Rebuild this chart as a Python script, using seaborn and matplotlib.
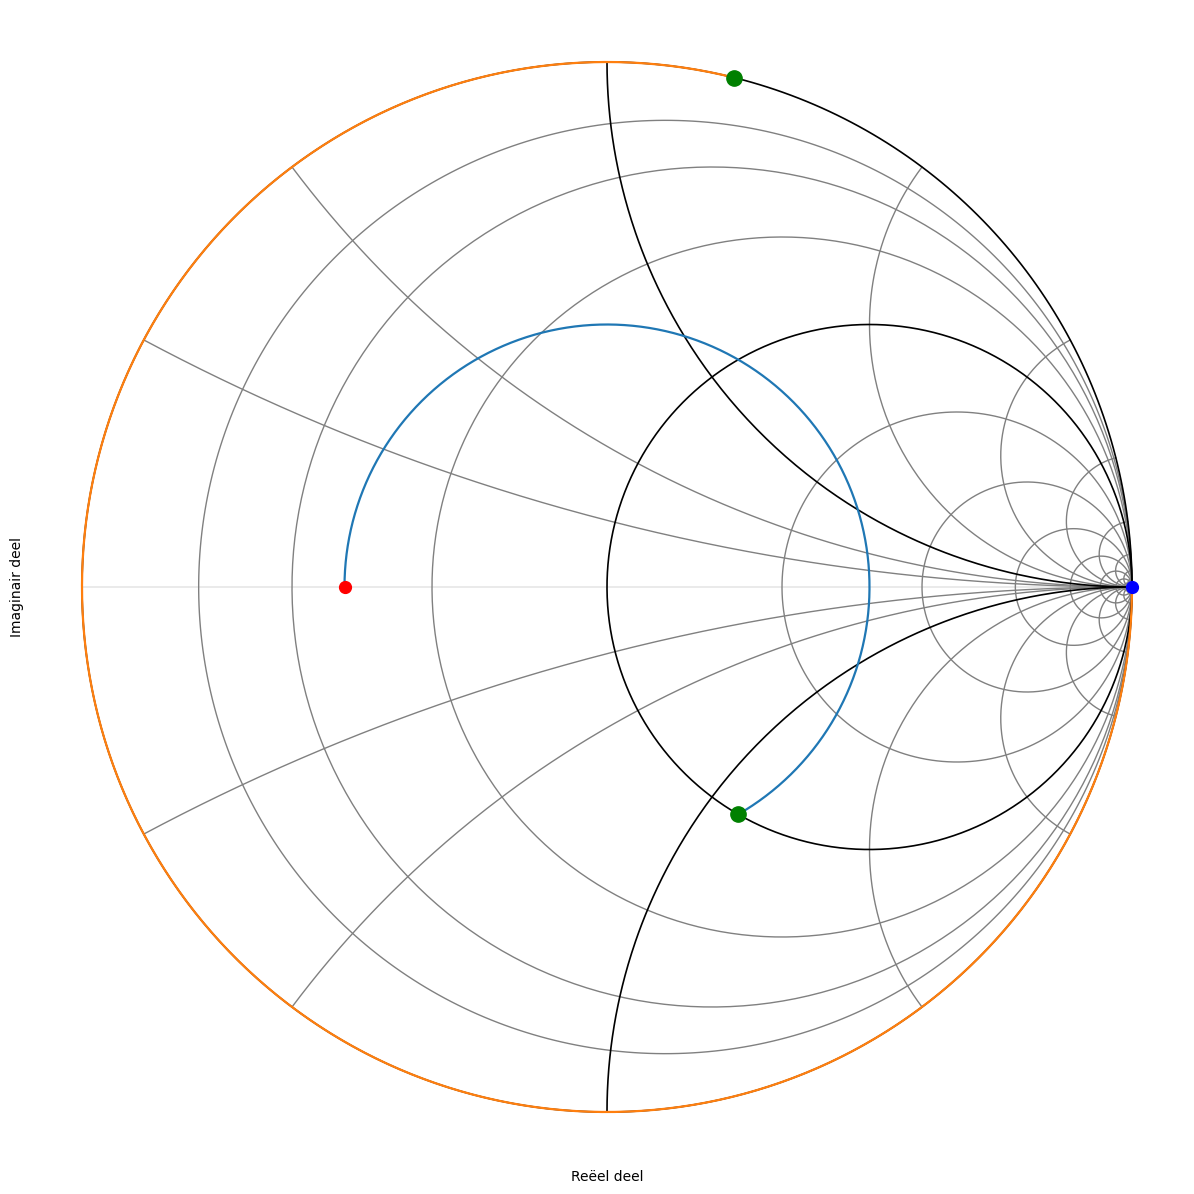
import numpy as np
import pandas as pd
import seaborn as sns
import matplotlib
matplotlib.use("Agg")
import matplotlib.pyplot as plt

# grid values of the Smith chart
resistances = [0.125, 0.25, 0.5, 2, 4, 8, 16, 32, 64, 128]
reactances = [0.25, 0.5, 2, 4, 8, 16, 32, 64, 128]
black_resistances = [0, 1]
black_reactances = [1, -1]

# blue |Gamma| circle, from start angle to end angle (degrees)
gamma_mag = 0.5
gamma_start_deg = 180
gamma_end_deg = -60

# orange arc on the outer circle (degrees)
orange_start_deg = 76
orange_end_deg = 360

# marked points (real, imag)
red_point = (-0.5, 0.0)
blue_point = (1.0, 0.0)
green_points_re = [0.25, np.cos(np.radians(76))]
green_points_im = [-0.433, np.sin(np.radians(76))]


def r_circle(r, n=400):
    t = np.linspace(0, 2 * np.pi, n)
    c = r / (1 + r)
    rad = 1 / (1 + r)
    return c + rad * np.cos(t), rad * np.sin(t)


def x_arc(x):
    rr = np.concatenate([[0], np.logspace(-3, 5, 600)])
    z = rr + 1j * x
    g = (z - 1) / (z + 1)
    return g.real, g.imag


def to_frame(curves):
    rows = []
    for i, (re, im) in enumerate(curves):
        rows.append(pd.DataFrame({"re": re, "im": im, "curve": i}))
    return pd.concat(rows, ignore_index=True)


gray_curves = [r_circle(r) for r in resistances]
gray_curves += [x_arc(s * x) for x in reactances for s in (1, -1)]
black_curves = [r_circle(r) for r in black_resistances]
black_curves += [x_arc(x) for x in black_reactances]

gray_df = to_frame(gray_curves)
black_df = to_frame(black_curves)

th = np.radians(np.linspace(gamma_start_deg, gamma_end_deg, 400))
blue_df = pd.DataFrame({"re": gamma_mag * np.cos(th), "im": gamma_mag * np.sin(th)})
th2 = np.radians(np.linspace(orange_start_deg, orange_end_deg, 600))
orange_df = pd.DataFrame({"re": np.cos(th2), "im": np.sin(th2)})

sns.set_style("white")
plt.rcParams["text.color"] = "black"
plt.rcParams["axes.labelcolor"] = "black"
fig = plt.figure(figsize=(11.94, 11.94), dpi=100)
ax = fig.add_axes([29.5 / 1194, 29.5 / 1194, 1155 / 1194, 1155 / 1194])

ax.plot([-1, 1], [0, 0], color="#e6e6e6", lw=1.2, zorder=1)
sns.lineplot(data=gray_df, x="re", y="im", units="curve", estimator=None,
             sort=False, color="gray", lw=1.0, ax=ax, zorder=2)
sns.lineplot(data=black_df, x="re", y="im", units="curve", estimator=None,
             sort=False, color="black", lw=1.2, ax=ax, zorder=3)
sns.lineplot(data=orange_df, x="re", y="im", sort=False, estimator=None,
             color="#ff7f0e", lw=1.6, ax=ax, zorder=4)
sns.lineplot(data=blue_df, x="re", y="im", sort=False, estimator=None,
             color="#1f77b4", lw=1.6, ax=ax, zorder=5)

ax.plot(*red_point, "o", color="red", ms=8.5, zorder=6)
ax.plot(*blue_point, "o", color="blue", ms=8.5, zorder=6)
ax.plot(green_points_re, green_points_im, "o", ls="none", color="green", ms=11, zorder=6)

ax.set_xlim(-1.1, 1.1)
ax.set_ylim(-1.1, 1.1)
ax.set_aspect("equal")
ax.set_xticks([])
ax.set_yticks([])
for s in ax.spines.values():
    s.set_visible(False)
ax.set_xlabel("Reëel deel", color="black")
ax.set_ylabel("Imaginair deel", color="black")

fig.savefig("out.png", dpi=100)
